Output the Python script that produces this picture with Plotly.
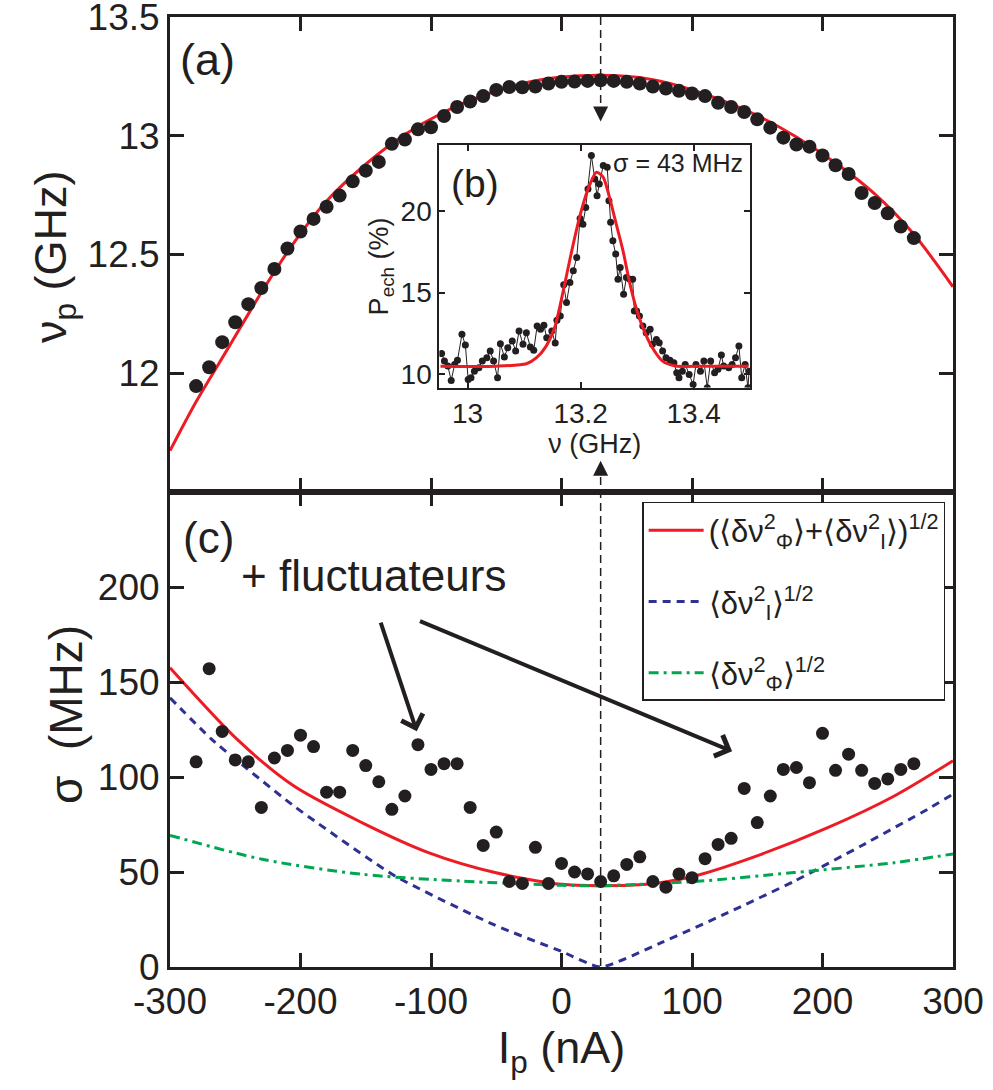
import plotly.graph_objects as go

# ---------------- data ----------------
# panel (a): qubit frequency vs bias current
ip_a = [-280, -270, -260, -250, -240, -230, -220, -210, -200, -190, -180, -170, -160, -150,
        -140, -130, -120, -110, -100, -90, -80, -70, -60, -50, -40, -30, -20, -10,
        0, 10, 20, 30, 40, 50, 60, 70, 80, 90, 100, 110, 120, 130,
        140, 150, 160, 170, 180, 190, 200, 210, 220, 230, 240, 250, 260, 270]
nu_a = [11.946, 12.025, 12.131, 12.215, 12.291, 12.359, 12.439, 12.525, 12.597, 12.650, 12.701, 12.748, 12.808, 12.853,
        12.890, 12.966, 12.984, 13.027, 13.036, 13.083, 13.121, 13.144, 13.167, 13.193, 13.205, 13.204, 13.207, 13.220,
        13.227, 13.228, 13.231, 13.234, 13.231, 13.227, 13.220, 13.207, 13.199, 13.189, 13.178, 13.167, 13.139, 13.121,
        13.100, 13.069, 13.034, 12.992, 12.963, 12.954, 12.917, 12.876, 12.839, 12.759, 12.717, 12.674, 12.618, 12.569]
fit_a_x = [-300, -280, -255, -230, -205, -180, -150, -120, -90, -60, -30, 0, 30, 60, 90, 120, 150, 180, 210, 240, 270, 300]
fit_a_y = [11.674, 11.88, 12.11, 12.34, 12.55, 12.725, 12.88, 13.005, 13.10, 13.17, 13.22, 13.247, 13.255, 13.245,
           13.21, 13.155, 13.085, 12.995, 12.885, 12.755, 12.585, 12.364]

# panel (b): spectroscopy line
nu_b = [12.954, 12.959, 12.965, 12.971, 12.977, 12.982, 12.990, 12.996, 13.001, 13.006, 13.012, 13.020, 13.026, 13.034,
        13.040, 13.046, 13.053, 13.058, 13.065, 13.071, 13.079, 13.085, 13.091, 13.098, 13.104, 13.111, 13.117, 13.123,
        13.129, 13.135, 13.140, 13.149, 13.155, 13.158, 13.164, 13.170, 13.175, 13.181, 13.187, 13.193, 13.199, 13.204,
        13.209, 13.213, 13.219, 13.225, 13.229, 13.233, 13.240, 13.247, 13.250, 13.253, 13.257, 13.262, 13.266, 13.270,
        13.276, 13.281, 13.287, 13.292, 13.295, 13.299, 13.304, 13.310, 13.316, 13.323, 13.327, 13.334, 13.339, 13.345,
        13.351, 13.358, 13.365, 13.370, 13.374, 13.380, 13.385, 13.392, 13.399, 13.404, 13.412, 13.418, 13.424, 13.430,
        13.437, 13.443, 13.449, 13.453, 13.462, 13.468, 13.474, 13.480, 13.485, 13.491, 13.496, 13.498]
p_b = [11.27, 10.82, 10.51, 9.63, 10.61, 10.86, 12.45, 11.80, 9.69, 9.80, 10.20, 10.41, 10.82, 11.02,
       11.43, 10.82, 9.80, 11.88, 11.06, 11.63, 12.04, 11.43, 12.65, 11.84, 12.55, 11.67, 11.47, 12.96,
       12.76, 13.00, 12.24, 12.65, 11.92, 13.31, 13.57, 15.47, 14.39, 15.61, 16.33, 17.14, 19.53, 19.18,
       20.20, 21.33, 23.37, 21.94, 20.92, 21.63, 22.76, 22.65, 20.61, 19.29, 18.16, 17.35, 15.82, 16.53,
       14.90, 15.92, 15.82, 15.82, 13.88, 13.88, 13.57, 12.96, 12.55, 12.76, 11.84, 12.14, 11.94, 11.43,
       11.02, 10.86, 10.71, 10.10, 9.80, 10.20, 10.61, 10.00, 9.39, 10.61, 10.20, 10.82, 9.18, 10.82,
       10.10, 10.31, 11.18, 10.51, 10.41, 10.61, 11.02, 11.73, 9.80, 10.61, 9.18, 10.20]
fit_b_x = [12.952, 13.05, 13.104, 13.122, 13.139, 13.154, 13.168, 13.183, 13.198, 13.212, 13.228, 13.240, 13.251,
           13.263, 13.275, 13.286, 13.298, 13.310, 13.327, 13.345, 13.368, 13.42, 13.497]
fit_b_y = [10.5, 10.5, 10.65, 11.02, 11.73, 12.86, 14.90, 17.35, 19.59, 21.22, 22.35, 22.04, 20.81,
           19.18, 17.55, 15.71, 14.08, 12.86, 11.63, 10.81, 10.51, 10.5, 10.5]

# panel (c): linewidth vs bias current
ip_c = ip_a
sigma_c = [108, 157, 124, 109, 108, 84, 110, 114, 122, 116, 92, 92, 114, 106,
           97.5, 83, 90, 117, 104, 107, 107, 84, 64, 71, 45, 44, 63, 44,
           54.5, 50, 49, 45, 48, 54, 58, 45, 42, 49, 47, 57, 64.5, 67.7,
           94, 76, 90, 104, 105, 97, 123, 103.5, 112, 103.5, 96.6, 99, 104, 107]
tot_x = [-300, -248.5, -205, -153, -102, -51, 0, 30, 65, 102, 153, 204, 255, 300]
tot_y = [157.5, 119.8, 95.2, 76, 60.2, 49.7, 43.5, 42.8, 43.5, 47.9, 59.3, 73.3, 90, 108.5]
cur_x = [-300, -268, -205, -127.5, -51, 0, 30, 76.5, 127.5, 178.5, 229.5, 280.5, 300]
cur_y = [141.7, 119.8, 84.7, 47.9, 22, 8.2, 0, 12.8, 28.6, 45.2, 63.7, 83, 91]
flux_x = [-300, -229.4, -153, -76.5, 0, 30, 102, 178, 255, 300]
flux_y = [69.3, 56.7, 48.8, 45.2, 43, 42.8, 45, 49.7, 54.9, 59.5]

i_sweet = 30  # bias of the spectrum shown in (b)

x_ticks = [-300, -200, -100, 0, 100, 200, 300]
x_ticktext = ["-300", "-200", "-100", "0", "100", "200", "300"]

# ---------------- style ----------------
FONT = "Liberation Sans, Arial, Helvetica, sans-serif"
BLACK = "#231F20"
RED = "#ED1C24"
BLUE = "#2E3192"
GREEN = "#00A651"

fig = go.Figure()

# (a)
fig.add_trace(go.Scatter(x=fit_a_x, y=fit_a_y, mode="lines", line=dict(color=RED, width=3, shape="spline", smoothing=0.8),
                         xaxis="x", yaxis="y", showlegend=False))
fig.add_trace(go.Scatter(x=ip_a, y=nu_a, mode="markers", marker=dict(color=BLACK, size=14),
                         xaxis="x", yaxis="y", showlegend=False))
# (b)
fig.add_trace(go.Scatter(x=nu_b, y=p_b, mode="lines+markers", line=dict(color=BLACK, width=1),
                         marker=dict(color=BLACK, size=7), xaxis="x3", yaxis="y3", showlegend=False))
fig.add_trace(go.Scatter(x=fit_b_x, y=fit_b_y, mode="lines", line=dict(color=RED, width=3, shape="spline", smoothing=0.7),
                         xaxis="x3", yaxis="y3", showlegend=False))
# (c)
fig.add_trace(go.Scatter(x=tot_x, y=tot_y, mode="lines", line=dict(color=RED, width=3, shape="spline", smoothing=0.8),
                         xaxis="x2", yaxis="y2", legendrank=1, legendgroup="g1",
                         name="(⟨δν<sup>2</sup><sub>Φ</sub>⟩+⟨δν<sup>2</sup><sub>I</sub>⟩)<sup>1/2</sup>"))
fig.add_trace(go.Scatter(x=cur_x, y=cur_y, mode="lines", line=dict(color=BLUE, width=3, dash="8px,6px", shape="spline", smoothing=0.5),
                         xaxis="x2", yaxis="y2", legendrank=2, legendgroup="g2",
                         name="⟨δν<sup>2</sup><sub>I</sub>⟩<sup>1/2</sup>"))
fig.add_trace(go.Scatter(x=flux_x, y=flux_y, mode="lines", line=dict(color=GREEN, width=3, dash="10px,5px,3px,5px", shape="spline", smoothing=0.8),
                         xaxis="x2", yaxis="y2", legendrank=3, legendgroup="g3",
                         name="⟨δν<sup>2</sup><sub>Φ</sub>⟩<sup>1/2</sup>"))
fig.add_trace(go.Scatter(x=ip_c, y=sigma_c, mode="markers", marker=dict(color=BLACK, size=13),
                         xaxis="x2", yaxis="y2", showlegend=False))

ax_common = dict(showline=True, linecolor=BLACK, linewidth=3, mirror="allticks", ticks="inside",
                 ticklen=14, tickwidth=3, tickcolor=BLACK, showgrid=False, zeroline=False,
                 ticklabeloverflow="allow", automargin=False,
                 tickfont=dict(family=FONT, size=37, color=BLACK))
inset_common = dict(showline=True, linecolor=BLACK, linewidth=2, mirror="allticks", ticks="inside",
                    ticklen=6, tickwidth=2, tickcolor=BLACK, showgrid=False, zeroline=False,
                    automargin=False,
                    tickfont=dict(family=FONT, size=28, color=BLACK))

fig.update_layout(
    width=993, height=1090,
    margin=dict(l=170, r=40, t=17, b=123, autoexpand=False),
    paper_bgcolor="white", plot_bgcolor="white",
    font=dict(family=FONT, color=BLACK),
    xaxis=dict(domain=[0, 1], anchor="y", range=[-300, 300], matches="x2", showticklabels=False,
               tickvals=x_ticks, **ax_common),
    yaxis=dict(domain=[0.5, 1], anchor="x", range=[11.5, 13.5], tickvals=[12, 12.5, 13, 13.5],
               ticktext=["12", "12.5", "13", "13.5"], **ax_common),
    xaxis2=dict(domain=[0, 1], anchor="y2", range=[-300, 300], tickvals=x_ticks, ticktext=x_ticktext,
                title=dict(text="I<sub>p</sub> (nA)", font=dict(family=FONT, size=45, color=BLACK), standoff=6),
                **ax_common),
    yaxis2=dict(domain=[0, 0.5], anchor="x2", range=[0, 250], tickvals=[0, 50, 100, 150, 200], **ax_common),
    xaxis3=dict(domain=[0.344, 0.741], anchor="y3", range=[12.95, 13.5], tickvals=[13, 13.2, 13.4],
                ticktext=["13", "13.2", "13.4"],
                title=dict(text="ν (GHz)", font=dict(family=FONT, size=27, color=BLACK), standoff=0),
                **inset_common),
    yaxis3=dict(domain=[0.610, 0.865], anchor="x3", range=[9.2, 24], tickvals=[10, 15, 20],
                title=dict(text="P<sub>ech</sub> (%)", font=dict(family=FONT, size=27, color=BLACK), standoff=4),
                **inset_common),
    legend=dict(x=0.603, y=0.4895, xanchor="left", yanchor="top", bgcolor="white",
                bordercolor=BLACK, borderwidth=1.5, font=dict(family=FONT, size=31, color=BLACK),
                itemwidth=55, tracegroupgap=28),
    showlegend=True,
)

# dashed marker of the bias used in (b)
fig.add_shape(type="line", xref="x", yref="paper", x0=i_sweet, x1=i_sweet, y0=1, y1=0.905,
              line=dict(color=BLACK, width=1.5, dash="8px,5px"))
fig.add_shape(type="line", xref="x", yref="paper", x0=i_sweet, x1=i_sweet, y0=0.5158, y1=0,
              line=dict(color=BLACK, width=1.5, dash="8px,5px"))

annots = [
    dict(x=i_sweet, y=13.06, xref="x", yref="y", ax=0, ay=-16, text="", showarrow=True,
         arrowhead=2, arrowsize=2, arrowwidth=1.5, arrowcolor=BLACK, standoff=0),
    dict(x=i_sweet, y=11.632, xref="x", yref="y", ax=0, ay=16, text="", showarrow=True,
         arrowhead=2, arrowsize=2, arrowwidth=1.5, arrowcolor=BLACK, standoff=0),
    # y-axis titles
    dict(x=-0.1481, y=0.7474, xref="paper", yref="paper", text="ν<sub>p</sub> (GHz)", textangle=-90,
         showarrow=False, xanchor="center", yanchor="middle", font=dict(family=FONT, size=45, color=BLACK)),
    dict(x=-0.1328, y=0.2653, xref="paper", yref="paper", text="σ  (MHz)", textangle=-90,
         showarrow=False, xanchor="center", yanchor="middle", font=dict(family=FONT, size=46, color=BLACK)),
    # panel labels
    dict(x=0.01, y=0.91, xref="x domain", yref="y domain", text="(a)", showarrow=False,
         xanchor="left", yanchor="middle", font=dict(family=FONT, size=45, color=BLACK)),
    dict(x=0.03, y=0.843, xref="x3 domain", yref="y3 domain", text="(b)", showarrow=False,
         xanchor="left", yanchor="middle", font=dict(family=FONT, size=39, color=BLACK)),
    dict(x=0.014, y=0.905, xref="x2 domain", yref="y2 domain", text="(c)", showarrow=False,
         xanchor="left", yanchor="middle", font=dict(family=FONT, size=44, color=BLACK)),
    dict(x=13.49, y=22.9, xref="x3", yref="y3", text="σ = 43 MHz", showarrow=False,
         xanchor="right", yanchor="middle", font=dict(family=FONT, size=25, color=BLACK)),
    dict(x=-143.7, y=206, xref="x2", yref="y2", text="+ fluctuateurs", showarrow=False,
         xanchor="center", yanchor="middle", font=dict(family=FONT, size=44, color=BLACK)),
    dict(x=-110.9, y=124.1, ax=-138.9, ay=182, xref="x2", yref="y2", axref="x2", ayref="y2", text="",
         showarrow=True, arrowhead=4, arrowsize=1.1, arrowwidth=4, arrowcolor=BLACK, standoff=0),
    dict(x=130.7, y=113.5, ax=-109.6, ay=182.4, xref="x2", yref="y2", axref="x2", ayref="y2", text="",
         showarrow=True, arrowhead=4, arrowsize=1.1, arrowwidth=4, arrowcolor=BLACK, standoff=0),
]
fig.update_layout(annotations=annots)

fig.write_html("out.html", config={"displayModeBar": False},
               post_script="document.body.style.margin='0';")
